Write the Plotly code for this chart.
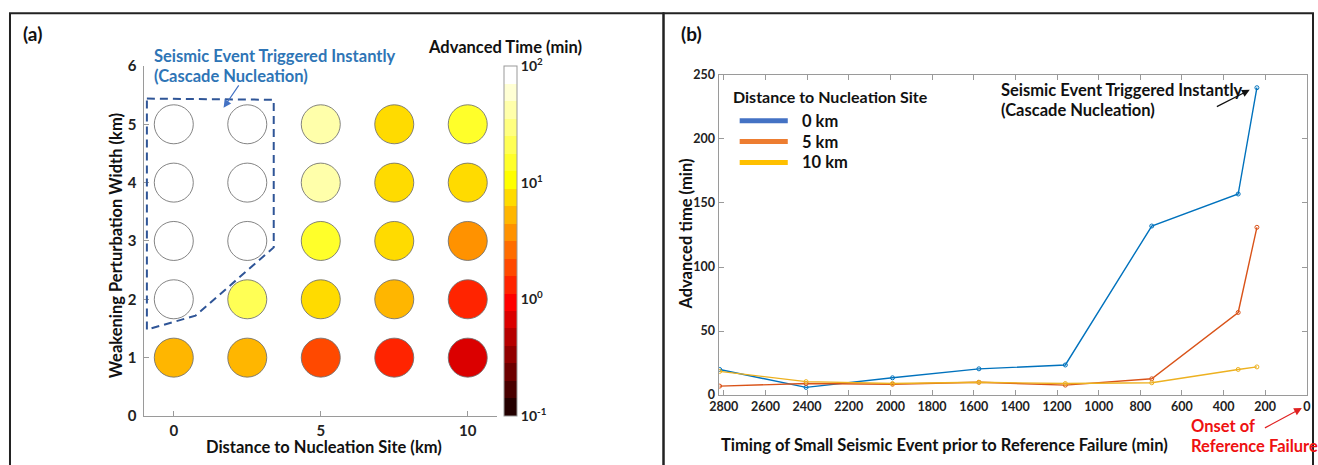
import numpy as np
import plotly.graph_objects as go

# Figure size and the mapping from reference-picture pixels to figure pixels
# (the page is shown with the browser's default 8px body margin and photographed
#  scaled back into the 1318x465 frame).
W, H = 1318, 465
OFF = 8
SX = W / (W + 2 * OFF)
SY = H / (H + 2 * OFF)
FONT = "Lato"

# ---------------- data: panel (a) ----------------
distances_km = [0, 2.5, 5, 7.5, 10]
widths_km = [1, 2, 3, 4, 5]
# rows follow widths_km, columns follow distances_km (100 = triggered instantly, shown white)
advanced_time_min = [
    [5.0, 5.0, 1.9, 1.3, 0.7],
    [100, 20.0, 7.0, 5.0, 1.3],
    [100, 100, 15.0, 7.0, 3.7],
    [100, 100, 45.0, 7.0, 7.0],
    [100, 100, 45.0, 7.0, 15.0],
]
cbar_tickvals = [-1, 0, 1, 2]
cbar_ticktext = ["10<sup>-1</sup>", "10<sup>0</sup>", "10<sup>1</sup>", "10<sup>2</sup>"]
a_xticks = [0, 5, 10]
a_yticks = [0, 1, 2, 3, 4, 5, 6]

# ---------------- data: panel (b) ----------------
timing_min = [2820, 2405, 1990, 1575, 1160, 745, 330, 240]
adv_0km = [20.0, 6.0, 13.5, 20.5, 23.5, 132.0, 157.0, 240.0]
adv_5km = [7.0, 9.0, 8.5, 10.0, 7.8, 12.7, 64.5, 131.0]
adv_10km = [18.5, 10.5, 9.0, 10.0, 9.0, 9.6, 20.0, 22.0]
series_names = ["0 km", "5 km", "10 km"]
line_colors = ["#0072BD", "#D95319", "#EDB120"]
legend_colors = ["#4472C4", "#ED7D31", "#FFC000"]
b_xticks = list(range(0, 2801, 200))
b_yticks = [0, 50, 100, 150, 200, 250]


def fx(x):
    return x / SX - OFF


def fy(y):
    return y / SY - OFF


def px(x):
    return fx(x) / W


def py(y):
    return 1 - fy(y) / H


def hot(n):
    m = int(np.fix(3 / 8 * n))
    r = np.concatenate([np.arange(1, m + 1) / m, np.ones(n - m)])
    g = np.concatenate([np.zeros(m), np.arange(1, m + 1) / m, np.ones(n - 2 * m)])
    b = np.concatenate([np.zeros(2 * m), np.arange(1, n - 2 * m + 1) / (n - 2 * m)])
    return np.stack([r, g, b], axis=1)


N = 20
cmap = hot(N)
colorscale = []
for i, (r, g, b) in enumerate(cmap):
    c = f"rgb({int(round(r*255))},{int(round(g*255))},{int(round(b*255))})"
    colorscale.append([i / N, c])
    colorscale.append([(i + 1) / N, c])

xs, ys, cs, txt = [], [], [], []
for j, w in enumerate(widths_km):
    for i, d in enumerate(distances_km):
        xs.append(d)
        ys.append(w)
        cs.append(np.log10(advanced_time_min[j][i]))
        txt.append(advanced_time_min[j][i])

fig = go.Figure()

fig.add_trace(go.Scatter(
    x=xs, y=ys, mode="markers", xaxis="x", yaxis="y", showlegend=False,
    customdata=txt, hovertemplate="d=%{x} km, w=%{y} km<br>%{customdata} min<extra></extra>",
    marker=dict(
        size=39, color=cs, colorscale=colorscale, cmin=-1, cmax=2,
        line=dict(color="rgba(110,110,110,0.85)", width=1),
        colorbar=dict(
            x=px(502), xanchor="left", y=py(240), yanchor="middle",
            len=(fy(416) - fy(64)) / H, lenmode="fraction",
            thickness=13 / SX, thicknessmode="pixels",
            outlinecolor="#999999", outlinewidth=1,
            tickvals=cbar_tickvals, ticktext=cbar_ticktext, ticks="",
            tickfont=dict(family=FONT, size=14, color="#222", weight="bold"),
            xpad=0, ypad=0,
        ),
    ),
))

series = [adv_0km, adv_5km, adv_10km]
for name, vals, col in zip(series_names, series, line_colors):
    fig.add_trace(go.Scatter(
        x=timing_min, y=vals, mode="lines+markers", xaxis="x2", yaxis="y2",
        name=name, showlegend=False,
        line=dict(color=col, width=1.4),
        marker=dict(symbol="circle-open", size=4, color=col, line=dict(width=1)),
    ))

tickfont_a = dict(family=FONT, size=15, color="#222", weight="bold")
tickfont_b = dict(family=FONT, size=12.5, color="#222", weight="bold")
axcol = "#9a9a9a"

fig.update_layout(
    width=W, height=H, margin=dict(l=0, r=0, t=0, b=0),
    paper_bgcolor="white", plot_bgcolor="white",
    font=dict(family=FONT, color="#111"), showlegend=False,
    xaxis=dict(
        domain=[px(143), px(495)], range=[-1, 11], tickvals=a_xticks,
        showline=True, linecolor=axcol, linewidth=1, mirror=False,
        ticks="inside", ticklen=5, tickcolor=axcol, showgrid=False, zeroline=False,
        tickfont=tickfont_a, anchor="y", ticklabelstandoff=1,
    ),
    yaxis=dict(
        domain=[py(416), py(64)], range=[0, 6], tickvals=a_yticks,
        showline=True, linecolor=axcol, linewidth=1, mirror=False,
        ticks="inside", ticklen=5, tickcolor=axcol, showgrid=False, zeroline=False,
        tickfont=tickfont_a, anchor="x", ticklabelstandoff=4,
    ),
    xaxis2=dict(
        domain=[px(716), px(1303)], range=[2825, 0], tickvals=b_xticks,
        showline=True, linecolor=axcol, linewidth=1, mirror="ticks",
        ticks="inside", ticklen=5, tickcolor=axcol, showgrid=False, zeroline=False,
        tickfont=tickfont_b, anchor="y2",
    ),
    yaxis2=dict(
        domain=[py(395), py(73)], range=[0, 250], tickvals=b_yticks,
        showline=True, linecolor=axcol, linewidth=1, mirror="ticks",
        ticks="inside", ticklen=5, tickcolor=axcol, showgrid=False, zeroline=False,
        tickfont=tickfont_b, anchor="x2",
    ),
)

blue_txt = "#2E75B6"
red_txt = "#EE1111"
ann = []
shapes = []


def text(x, y, s, size=15, color="#111", xanchor="center", angle=0):
    ann.append(dict(
        xref="paper", yref="paper", x=px(x), y=py(y), text=s, showarrow=False,
        xanchor=xanchor, yanchor="middle", textangle=angle,
        font=dict(family=FONT, size=size, color=color, weight="bold"),
    ))


def arrow(x_head, y_head, x_tail, y_tail, color, width=1.2):
    ann.append(dict(
        xref="paper", yref="paper", x=px(x_head), y=py(y_head), text="",
        showarrow=True, axref="pixel", ayref="pixel",
        ax=(x_tail - x_head) / SX, ay=(y_tail - y_head) / SY,
        arrowcolor=color, arrowwidth=width, arrowhead=2, arrowsize=1.3,
    ))


# panel (a)
text(20, 31, "(a)", size=19, xanchor="left")
text(151, 54, "Seismic Event Triggered Instantly", size=16.5, color=blue_txt, xanchor="left")
text(151, 74, "(Cascade Nucleation)", size=16.5, color=blue_txt, xanchor="left")
arrow(222, 106, 238, 83, "#4472C4")
text(503, 45, "Advanced Time (min)", size=16.5)
text(322, 447, "Distance to Nucleation Site (km)", size=16.5)
text(115, 245, "Weakening Perturbation Width (km)", size=16.5, angle=-90)

# panel (b)
text(676, 31, "(b)", size=19, xanchor="left")
text(996, 88, "Seismic Event Triggered Instantly", size=16.5, xanchor="left")
text(996, 108, "(Cascade Nucleation)", size=16.5, xanchor="left")
arrow(1246, 88, 1212, 105, "#111111")
text(941, 445, "Timing of Small Seismic Event prior to Reference Failure (min)", size=16.5)
text(683, 233, "Advanced time (min)", size=16.5, angle=-90)
text(1185, 426, "Onset of", size=16.5, color=red_txt, xanchor="left")
text(1185, 446, "Reference Failure", size=16.5, color=red_txt, xanchor="left")
arrow(1298, 408, 1260, 428, "#E02020")

# legend box of panel (b)
text(728, 95, "Distance to Nucleation Site", size=16, xanchor="left")
for k, (name, col) in enumerate(zip(series_names, legend_colors)):
    yk = 119 + 21 * k
    shapes.append(dict(type="line", xref="paper", yref="paper",
                       x0=px(737), x1=px(785), y0=py(yk), y1=py(yk),
                       line=dict(color=col, width=5)))
    text(797, yk, name, size=16.5, xanchor="left")

fig.update_layout(annotations=ann)

shapes += [
    # cascade-nucleation region outline (data coordinates of panel a)
    dict(type="path", xref="x", yref="y",
         path="M -0.915,5.44 L 3.40,5.42 L 3.40,2.89 L 0.74,1.72 L -0.915,1.48 Z",
         line=dict(color="#2F5597", width=2, dash="8px,5px")),
    # panel frames
    dict(type="rect", xref="paper", yref="paper", x0=1 / W, x1=px(661), y0=-0.05, y1=py(11),
         line=dict(color="#222", width=2)),
    dict(type="rect", xref="paper", yref="paper", x0=px(661), x1=1 - 1 / W, y0=-0.05, y1=py(11),
         line=dict(color="#222", width=2)),
]
fig.update_layout(shapes=shapes)

fig.write_html("out.html")
